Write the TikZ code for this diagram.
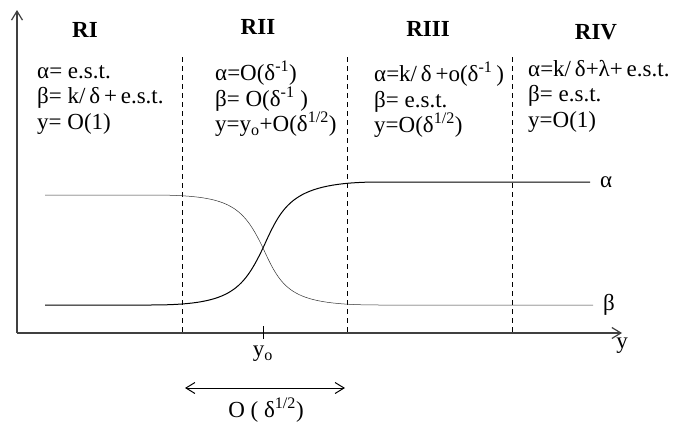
\documentclass[tikz,border=0pt]{standalone}
\usepackage{fontspec}
\setmainfont{Liberation Serif}
\usetikzlibrary{positioning, arrows.meta, calc}

\begin{document}
\begin{tikzpicture}[x=1pt, y=-1pt,
    region/.style={font=\fontsize{23}{24}\selectfont\bfseries, inner sep=0pt},
    cond/.style={font=\fontsize{23}{25.5}\selectfont, align=left, anchor=north west, inner sep=0pt},
    lbl/.style={font=\fontsize{23}{24}\selectfont, inner sep=0pt},
    axis/.style={line width=1.2pt, black!75, -{Straight Barb[length=9pt, width=11pt]}},
    sep/.style={dash pattern=on 5pt off 4pt, line width=0.8pt},
    thin curve/.style={line width=0.5pt, black!80},
    thick curve/.style={line width=1pt}
]
\useasboundingbox (0,0) rectangle (680,423);

% Axes
\coordinate (origin) at (17,333);
\coordinate (ytip) at (17,10);
\coordinate (xtip) at (622,333);
\draw[axis] (origin) -- (ytip);
\draw[axis] (origin) -- (xtip);
\node[lbl, below=5pt of xtip] (ylab) {y};

% Region boundaries
\foreach \x/\n in {182/one, 347/two, 512/three} {
  \coordinate (top-\n) at (\x,57);
  \coordinate (bot-\n) at (\x,333);
  \draw[sep] (top-\n) -- (bot-\n);
}

% Regions
\node[region] (RI) at (85,30) {RI};
\node[region] (RII) at (258,27) {RII};
\node[region] (RIII) at (428,29) {RIII};
\node[region] (RIV) at (596,32) {RIV};

\node[cond] (c1) at (37,65) {α= e.s.t.\\β= k/\,δ\,+\,e.s.t.\\y= O(1)};
\node[cond] (c2) at (215,61) {α=O(δ\textsuperscript{-1})\\β= O(δ\textsuperscript{-1} )\\y=y\textsubscript{o}+O(δ\textsuperscript{1/2})};
\node[cond] (c3) at (374,62) {α=k/\,δ\,+o(δ\textsuperscript{-1}\,)\\β= e.s.t.\\y=O(δ\textsuperscript{1/2})};
\node[cond] (c4) at (528,60) {α=k/\,δ+λ+\,e.s.t.\\β= e.s.t.\\y=O(1)};

% Curves
\coordinate (a0) at (45,195);
\coordinate (a1) at (590,182);
\coordinate (b0) at (45,305);
\coordinate (b1) at (593,305);
\coordinate (cross) at (263,248);
\draw[thick curve] (b0) -- (150,305) .. controls (228,305) and (242,292) .. (cross)
  .. controls (283,204) and (292,182) .. (380,182) -- (a1);
\draw[thin curve] (a0) -- (150,195) .. controls (228,195) and (242,204) .. (cross)
  .. controls (283,292) and (292,305) .. (380,305) -- (b1);
\node[lbl, right=10pt of a1] (alab) {α};
\node[lbl, right=10pt of b1] (blab) {β};

% Crossing point and width
\coordinate (tick-top) at (263,326);
\coordinate (tick-bot) at (263,339);
\draw[line width=0.8pt] (tick-top) -- (tick-bot);
\node[lbl, below=7pt of tick-bot] (y0) {y\textsubscript{o}};
\coordinate (w0) at (185,388);
\coordinate (w1) at (345,388);
\draw[line width=1pt, {Straight Barb[length=9pt, width=11pt]}-{Straight Barb[length=9pt, width=11pt]}] (w0) -- (w1);
\node[lbl] (width) at (266,410) {O ( δ\textsuperscript{1/2})};

\end{tikzpicture}
\end{document}
